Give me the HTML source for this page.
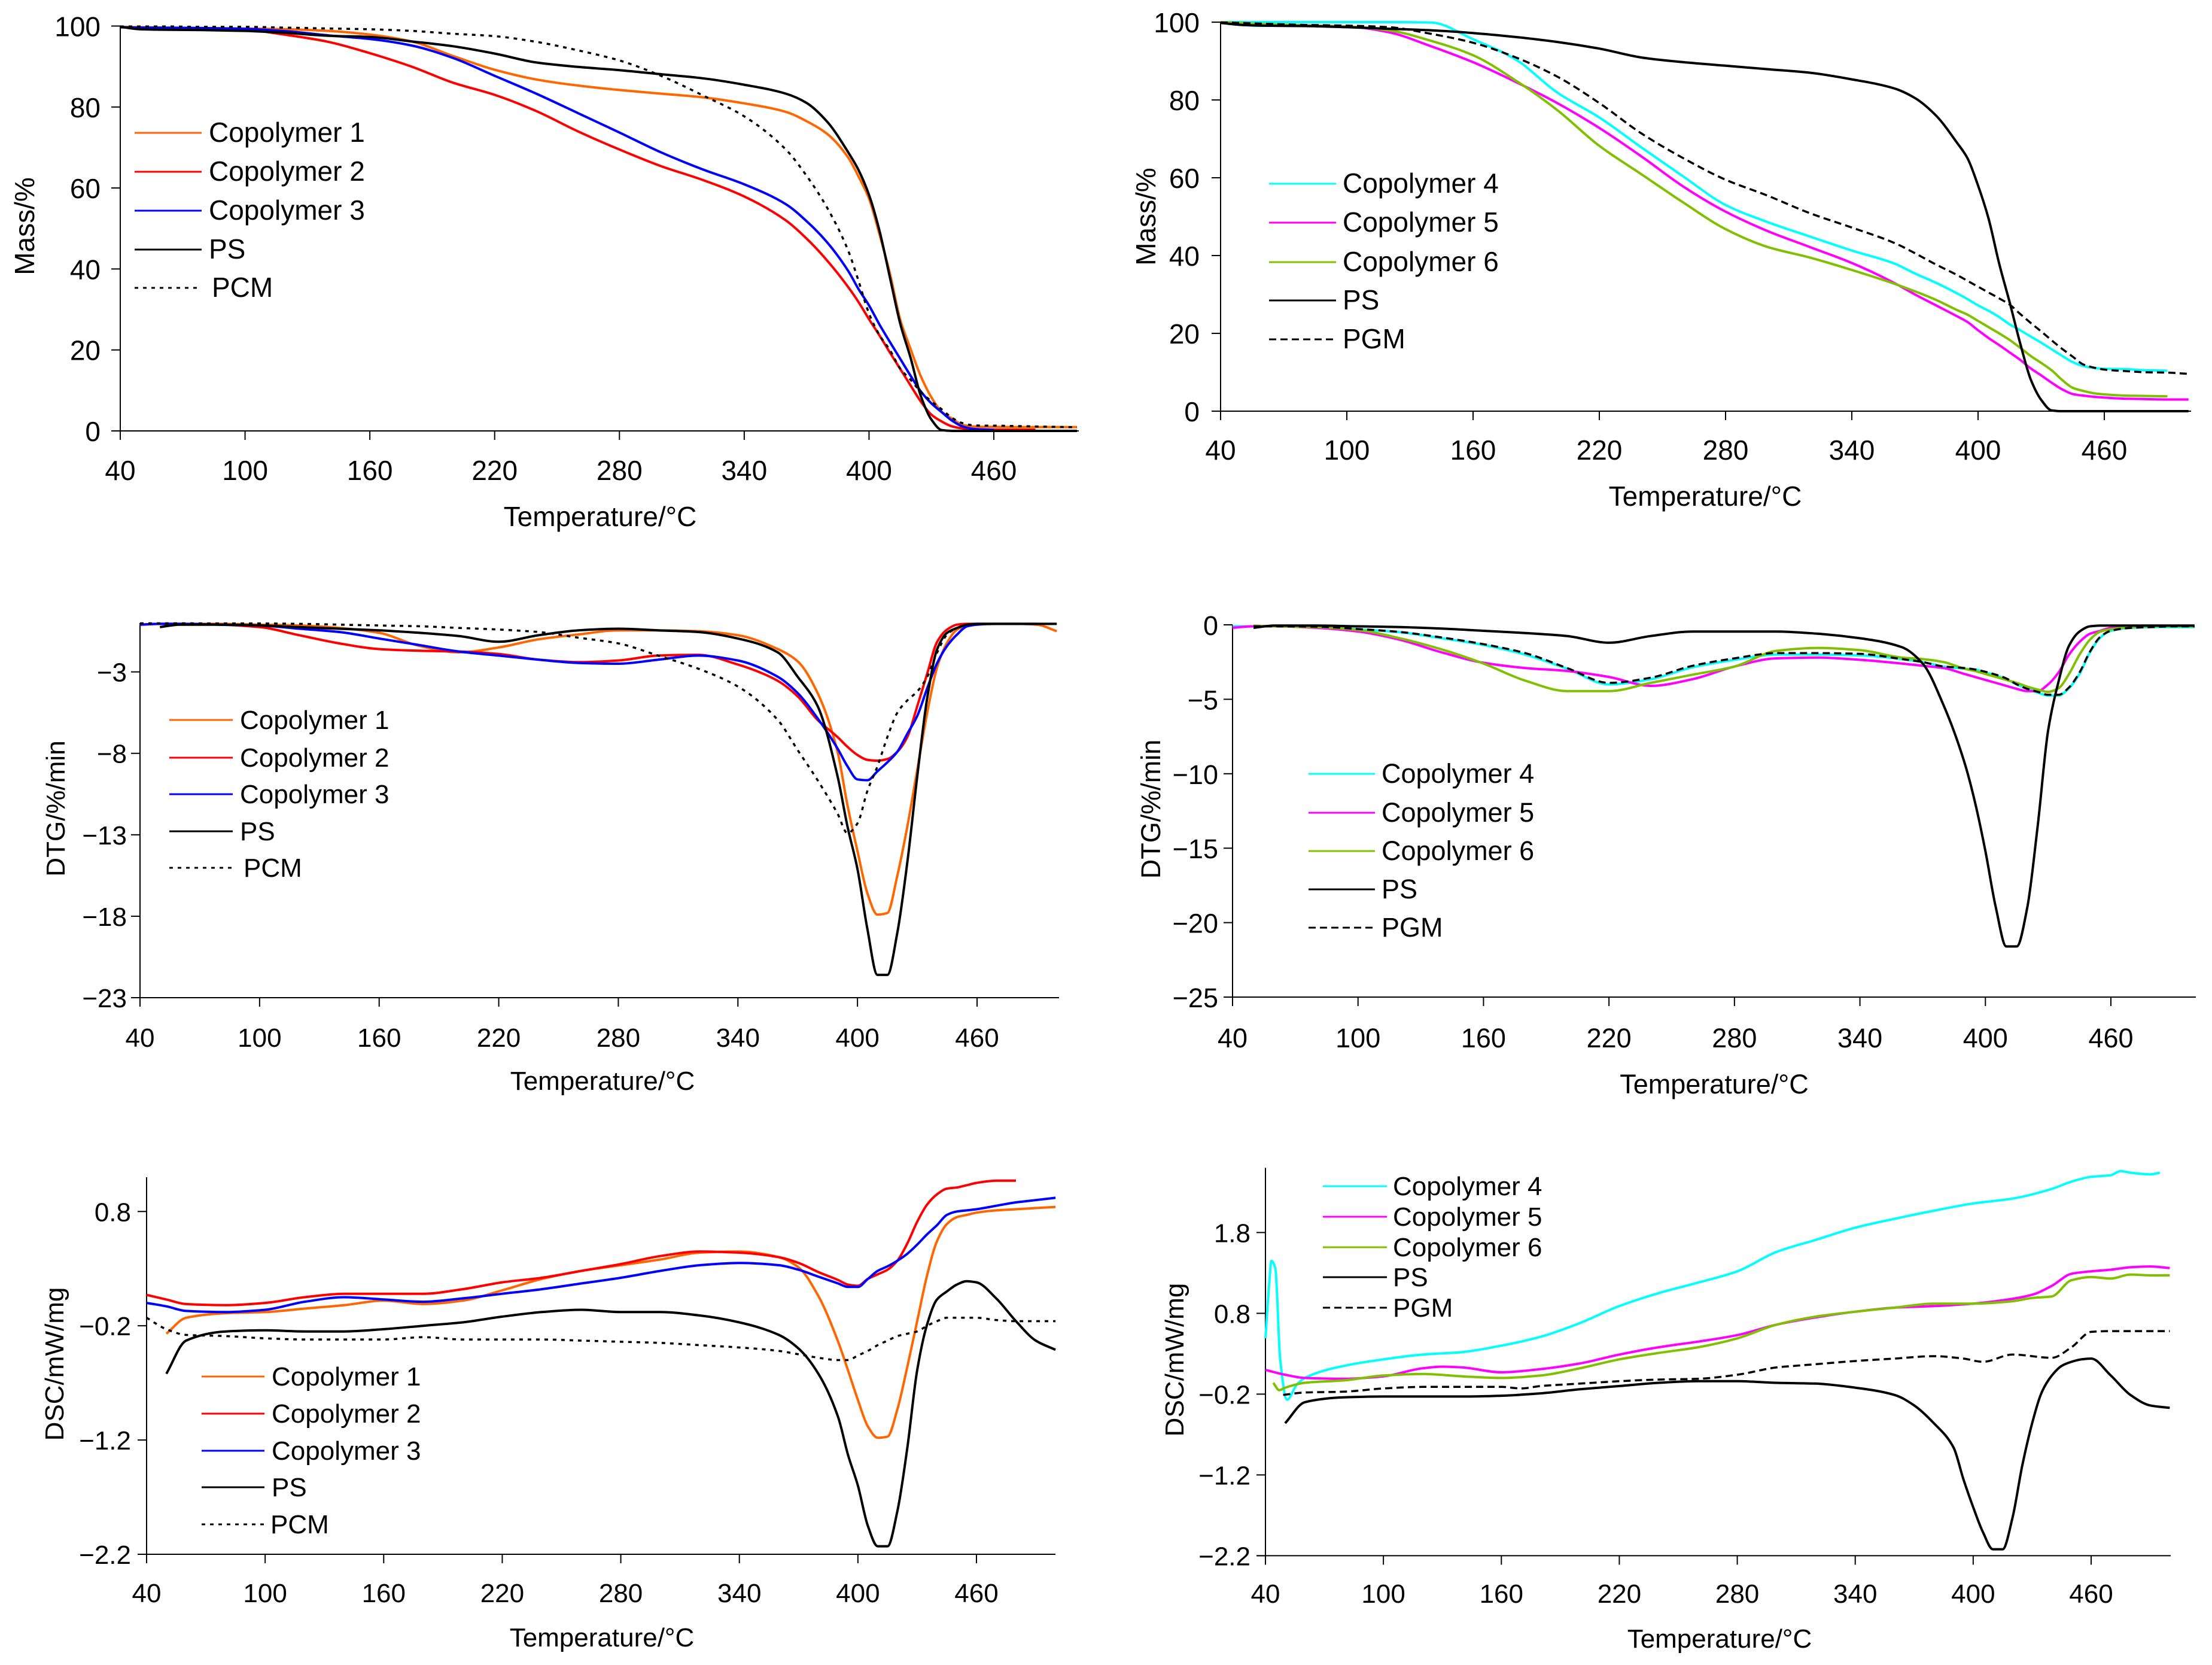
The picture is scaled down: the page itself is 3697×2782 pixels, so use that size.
<!DOCTYPE html>
<html><head><meta charset="utf-8"><title>Thermal analysis of copolymers</title>
<style>
html,body{margin:0;padding:0;background:#fff}
svg{display:block}
text{font-family:"Liberation Sans",Arial,sans-serif;fill:#000}
</style></head>
<body>
<svg id="figure" xmlns="http://www.w3.org/2000/svg" width="3697" height="2782" viewBox="0 0 3697 2782"></svg>
<script>
// Shared temperature grid (degC) for series
const tempGrid=[40,50,60,
80,100,120,140,160,180,200,220,240,260,280,300,320,340,
360,370,380,390,
395,400,405,410,415,420,425,430,435,440,445,450,455,460,
470,480,490,500];
const xTickValues=[40,100,160,220,280,340,400,460];
const massTicks=[0,20,40,60,80,100];
const dtgLeftTicks=[-23,-18,-13,-8,-3];
const dtgRightTicks=[-25,-20,-15,-10,-5,0];
const dscLeftTicks=[-2.2,-1.2,-0.2,0.8];
const dscRightTicks=[-2.2,-1.2,-0.2,0.8,1.8];

// Mass, left panel
const massLeftCopolymer1=[99.8,99.7,99.6,
99.5,99.4,99.2,98.8,97.9,96.2,92.6,89.2,86.8,85.3,84.2,83.3,82.4,80.9,
78.8,76.5,73.3,67.5,
62.8,57.4,48.6,39,27.5,20.2,13.4,8.3,4.7,3,1.5,1.1,1,1,
.95,.95,.95,.95];
const massLeftCopolymer2=[99.7,99.6,99.5,
99.4,99.1,97.8,96.1,93.3,90,86,83,79,74,69.5,65.4,62,57.9,
52,47.5,42,35.5,
31.8,27.6,23.6,19.4,15.3,11.2,7.2,4,2.3,1.1,.6,.4,.35,.3,
.3,.3,null,null];
const massLeftCopolymer3=[99.7,99.6,99.6,
99.5,99.3,98.7,97.7,96.8,95.2,92.1,87.7,83.3,78.5,73.7,68.8,64.6,60.9,
56,51.8,46.5,39.5,
35,31,26.3,22,17.8,13.6,9.7,6.8,4.6,2.5,1.1,.5,.35,.3,
null,null,null,null];
const massLeftPS=[99.8,99.2,99.1,
99,98.8,98.3,97.6,97.3,96.2,95,93.2,91,89.9,89.1,88.1,87.1,85.5,
83.3,81,76.3,68.8,
64.4,58.3,49.5,38,26.5,18,8.5,2.8,.2,0,0,0,0,0,
0,0,0,0];
const massLeftPCM=[99.9,99.9,99.9,
99.8,99.8,99.6,99.4,99.2,98.8,98.1,97.5,96.1,94,91.5,87.7,82.9,77.7,
69.5,63,55,44.5,
37,29,23.7,20,15.4,12.6,9.6,7.3,5.3,3.2,1.9,1.4,1.3,1.3,
1.2,1.1,1,.9];

// Mass, right panel
const massRightCopolymer4=[100,100,100,
100,100,100,99.9,95.6,90.5,81.9,75.5,67.8,60.3,53,48.6,44.9,41.3,
38,35.4,33,30.3,
28.8,27.2,25.8,24.2,22.3,20.8,19.2,17.6,15.9,14.2,12.6,11.6,11.1,10.9,
10.8,10.5,10.4,null];
const massRightCopolymer5=[100,99.3,99.2,
99.1,98.9,97.4,93.8,89.7,84.7,79.2,72.8,65.5,57.7,51.3,46.3,42.2,38.1,
33,30,27.2,24.4,
22.9,20.8,18.8,17,15.1,13.2,11,9.2,7.3,5.6,4.4,4,3.7,3.5,
3.2,3.1,3,3];
const massRightCopolymer6=[100,99.7,99.5,
99.2,98.9,97.9,95.2,91.5,85.1,77.4,68.2,60.9,53.6,46.8,42.2,39.5,36.3,
32.8,30.8,28.6,26,
24.8,23.2,21.6,20,18.3,16.3,14.2,12.4,10.5,8,6,5.2,4.6,4.3,
4,3.9,3.8,null];
const massRightPS=[99.8,99.3,99.1,
99,98.7,98.3,97.9,97.2,96.2,94.9,93.2,90.9,89.7,88.8,87.9,87,85.3,
83,80.5,76,69,
65,58,49.5,38,28,17.5,8.2,2.9,.2,0,0,0,0,0,
0,0,0,0];
const massRightPGM=[99.9,99.8,99.6,
99.3,99.1,98.7,97,94.7,91,86,79.2,71.4,65,59.5,55.4,50.9,47.2,
43.3,40.6,37.7,35,
33.5,32,30.5,29,27.4,25,22.7,20.5,18.2,16,14,12,11.2,10.7,
10.3,10,9.9,9.6];

// DTG, left panel
const dtgLeftCopolymer1=[-.1,-.05,-.05,
-.05,-.1,-.15,-.3,-.6,-1.4,-1.8,-1.5,-1,-.7,-.45,-.45,-.5,-.75,
-1.6,-2.35,-4.3,-7.9,
-11.2,-14,-16.6,-17.9,-17.8,-15.5,-12.5,-9,-5.5,-2.7,-1.2,-.4,-.15,-.05,
-.05,-.05,-.1,-.5];
const dtgLeftCopolymer2=[-.1,-.05,-.05,
-.1,-.25,-.75,-1.25,-1.6,-1.7,-1.75,-1.9,-2.25,-2.4,-2.3,-2,-1.95,-2.55,
-3.55,-4.5,-5.95,-7,
-7.6,-8.1,-8.4,-8.45,-8.35,-7.9,-7,-5.1,-3.1,-1.15,-.4,-.1,-.05,-.05,
-.05,null,null,null];
const dtgLeftCopolymer3=[-.1,-.05,-.05,
-.1,-.15,-.35,-.55,-.95,-1.35,-1.75,-2,-2.25,-2.45,-2.5,-2.25,-2,-2.3,
-3.3,-4.3,-5.85,-7.7,
-8.8,-9.6,-9.65,-9.1,-8.55,-7.9,-6.8,-5.7,-4,-2.45,-1.4,-.7,-.2,-.1,
-.05,-.05,-.05,null];
const dtgLeftPS=[null,-.25,-.1,
-.1,-.15,-.25,-.35,-.45,-.6,-.8,-1.15,-.75,-.45,-.35,-.45,-.55,-.95,
-1.8,-3.3,-5.1,-9.4,
-12.5,-15.1,-18.8,-21.6,-21.6,-19,-14.7,-9.4,-4.6,-1.6,-.6,-.3,-.1,-.05,
-.05,-.05,-.05,-.05];
const dtgLeftPCM=[-.02,-.02,-.02,
-.03,-.03,-.05,-.1,-.15,-.2,-.3,-.4,-.55,-.9,-1.25,-2,-2.8,-3.9,
-5.95,-7.8,-9.65,-11.7,
-12.9,-12.3,-10.3,-8.8,-7,-5.5,-4.75,-4.2,-3.3,-1.8,-.7,-.3,-.1,-.05,
-.05,-.05,-.05,-.05];

// DTG, right panel
const dtgRightCopolymer4=[-.1,-.1,-.1,
-.15,-.3,-.5,-.9,-1.35,-2,-2.95,-4,-3.65,-2.85,-2.35,-2,-2,-2.05,
-2.3,-2.5,-2.8,-2.95,
-3,-3.2,-3.4,-3.65,-4,-4.3,-4.55,-4.75,-4.75,-4.25,-3.3,-1.85,-.85,-.4,
-.2,-.15,-.15,-.15];
const dtgRightCopolymer5=[-.2,-.1,-.1,
-.2,-.45,-1,-1.85,-2.55,-2.9,-3.1,-3.5,-4.1,-3.65,-2.8,-2.25,-2.2,-2.35,
-2.6,-2.75,-2.9,-3.3,
-3.5,-3.7,-3.9,-4.1,-4.3,-4.45,-4.45,-4,-3.2,-2,-1.15,-.6,-.4,-.2,
-.1,-.1,-.1,-.1];
const dtgRightCopolymer6=[null,-.05,-.1,
-.15,-.35,-.9,-1.65,-2.6,-3.75,-4.45,-4.45,-3.9,-3.35,-2.8,-1.75,-1.55,-1.7,
-2.2,-2.3,-2.5,-2.95,
-3.1,-3.3,-3.5,-3.7,-3.9,-4.15,-4.35,-4.5,-4.25,-3.3,-2,-1,-.45,-.3,
-.15,-.1,-.1,-.1];
const dtgRightPS=[null,-.2,-.05,
-.05,-.1,-.15,-.25,-.4,-.55,-.75,-1.2,-.75,-.45,-.45,-.45,-.6,-.9,
-1.5,-2.6,-5.4,-9.25,
-11.9,-15.2,-19,-21.6,-21.6,-19,-13.5,-7.1,-3.8,-1.4,-.45,-.1,-.05,-.05,
-.05,-.05,-.05,-.05];
const dtgRightPGM=[null,-.1,-.1,
-.12,-.28,-.48,-.85,-1.3,-1.9,-2.9,-3.9,-3.55,-2.75,-2.25,-1.9,-1.9,-1.95,
-2.3,-2.5,-2.8,-2.9,
-3,-3.15,-3.35,-3.6,-4,-4.3,-4.5,-4.7,-4.7,-4.2,-3.2,-1.8,-.8,-.4,
-.2,-.15,-.1,-.1];

// DSC, left panel
const dscLeftCopolymer1=[null,-.27,-.13,
-.09,-.08,-.05,-.02,.02,-.01,.02,.11,.21,.28,.33,.38,.44,.45,
.4,.31,.06,-.34,
-.59,-.85,-1.08,-1.18,-1.17,-.93,-.56,-.16,.24,.54,.69,.75,.77,.79,
.81,.82,.83,.84];
const dscLeftCopolymer2=[.07,.03,-.01,
-.02,0,.05,.08,.08,.08,.12,.18,.22,.28,.34,.41,.45,.44,
.4,.35,.27,.2,
.16,.15,.21,.25,.29,.37,.52,.71,.86,.95,1,1.01,1.03,1.05,
1.07,1.07,null,null];
const dscLeftCopolymer3=[0,-.03,-.07,
-.08,-.06,.01,.05,.03,.01,.04,.08,.12,.17,.22,.28,.33,.35,
.33,.29,.23,.17,
.14,.14,.21,.28,.32,.37,.43,.51,.6,.68,.77,.8,.81,.82,
.85,.88,.9,.92];
const dscLeftPS=[null,-.62,-.33,
-.25,-.24,-.25,-.25,-.23,-.2,-.17,-.12,-.08,-.06,-.08,-.08,-.11,-.17,
-.28,-.4,-.62,-1,
-1.33,-1.6,-1.95,-2.13,-2.13,-1.82,-1.27,-.59,-.19,.03,.1,.16,.19,.18,
.04,-.16,-.33,-.41];
const dscLeftPCM=[-.13,-.23,-.28,
-.29,-.31,-.32,-.32,-.32,-.3,-.32,-.32,-.32,-.33,-.34,-.35,-.37,-.39,
-.42,-.45,-.48,-.5,
-.5,-.46,-.42,-.37,-.33,-.29,-.27,-.25,-.2,-.16,-.13,-.13,-.13,-.13,
-.15,-.16,-.16,-.16];

// DSC, right panel: each series has its own sampling
const dscRightCopolymer4Temps=[40,42,43,45,47.5,51,56,60,80,100,120,140,160,180,200,220,240,260,280,300,320,340,360,380,400,420,440,450,460,470,475,480,490,495];
const dscRightCopolymer4=[.49,1.2,1.45,1.36,.23,-.27,-.08,0,.15,.23,.29,.32,.4,.51,.68,.89,1.05,1.18,1.32,1.56,1.71,1.86,1.97,2.07,2.16,2.22,2.34,2.43,2.49,2.51,2.56,2.54,2.52,2.54];
const dscRightCopolymer5Temps=[40,50,60,80,100,120,130,140,160,180,200,220,240,260,280,300,320,340,360,380,400,420,430,440,450,460,470,480,490,500];
const dscRightCopolymer5=[.1,.04,0,-.01,.02,.12,.14,.13,.07,.11,.18,.29,.38,.45,.53,.66,.75,.82,.87,.89,.92,.98,1.03,1.14,1.29,1.32,1.34,1.37,1.38,1.36];
const dscRightCopolymer6Temps=[44,47,50,60,80,100,120,140,160,180,200,220,240,260,280,300,320,340,360,380,400,420,430,440,450,460,470,480,490,500];
const dscRightCopolymer6=[-.06,-.15,-.12,-.06,-.03,.03,.05,.02,0,.03,.12,.23,.31,.38,.49,.66,.76,.82,.87,.92,.92,.95,.99,1.01,1.21,1.25,1.23,1.28,1.27,1.27];
const dscRightPS=[null,-.56,-.3,
-.24,-.23,-.23,-.23,-.22,-.19,-.14,-.1,-.06,-.04,-.04,-.06,-.07,-.12,
-.21,-.34,-.56,-.86,
-1.25,-1.6,-1.91,-2.12,-2.12,-1.73,-1.08,-.56,-.17,.03,.15,.2,.23,.24,
.03,-.21,-.34,-.37];
const dscRightPGMTemps=[49,60,80,100,120,140,160,170,180,200,220,240,260,280,300,320,340,360,380,395,405,420,440,450,460,470,480,490,500];
const dscRightPGM=[-.21,-.18,-.17,-.13,-.11,-.11,-.11,-.13,-.1,-.07,-.04,-.02,-.01,.04,.13,.17,.21,.24,.27,.24,.2,.29,.25,.38,.57,.58,.58,.58,.58];

const SVGNS='http://www.w3.org/2000/svg';
const figure=document.getElementById('figure');
const COLORS={orange:'#ff6600',red:'#ff0000',blue:'#0000ff',black:'#000000',cyan:'#00ffff',magenta:'#ff00ff',green:'#80c000'};

function node(tag,attrs,parent){
  const el=document.createElementNS(SVGNS,tag);
  for(const k in attrs) el.setAttribute(k,attrs[k]);
  parent.appendChild(el);
  return el;
}
function slug(s){return s.toLowerCase().replace(/[^a-z0-9]+/g,'-').replace(/-$/,'');}
function fmt(v){return String(v).replace('-','\u2212');}

// Monotone cubic path through screen points
function smoothPath(pts){
  const n=pts.length;
  if(n<2) return '';
  const sec=[],m=[];
  for(let i=0;i<n-1;i++) sec.push((pts[i+1][1]-pts[i][1])/(pts[i+1][0]-pts[i][0]));
  m[0]=sec[0];m[n-1]=sec[n-2];
  for(let i=1;i<n-1;i++){
    if(sec[i-1]*sec[i]<=0){m[i]=0;}
    else{
      const h0=pts[i][0]-pts[i-1][0],h1=pts[i+1][0]-pts[i][0];
      const w1=2*h1+h0,w2=h1+2*h0;
      m[i]=(w1+w2)/(w1/sec[i-1]+w2/sec[i]);
    }
  }
  let d='M'+pts[0][0].toFixed(1)+' '+pts[0][1].toFixed(1);
  for(let i=0;i<n-1;i++){
    const h=(pts[i+1][0]-pts[i][0])/3;
    d+='C'+(pts[i][0]+h).toFixed(1)+' '+(pts[i][1]+m[i]*h).toFixed(1)+' '+(pts[i+1][0]-h).toFixed(1)+' '+(pts[i+1][1]-m[i+1]*h).toFixed(1)+' '+pts[i+1][0].toFixed(1)+' '+pts[i+1][1].toFixed(1);
  }
  return d;
}

function drawPanel(p){
  const g=node('g',{'font-size':p.fontSize},figure);
  
  
  const xOf=function(t){return p.x40+(t-40)*(p.x460-p.x40)/420;};
  const yOf=function(v){return p.yTop+(p.vTop-v)*(p.yBottom-p.yTop)/(p.vTop-p.vBottom);};

  const yAxis=node('line',{x1:p.x40,x2:p.x40,y1:p.yTop,y2:p.yBottom+15,stroke:'#000','stroke-width':2},g);
  
  
  const xAxis=node('line',{x1:p.x40-15,x2:p.xEnd,y1:p.yBottom,y2:p.yBottom,stroke:'#000','stroke-width':2},g);
  
  

  xTickValues.forEach(function(t){
    const tick=node('line',{x1:xOf(t),x2:xOf(t),y1:p.yBottom,y2:p.yBottom+15,stroke:'#000','stroke-width':2},g);
    
    
    const lab=node('text',{x:xOf(t),y:p.xLabelY,'text-anchor':'middle'},g);
    lab.textContent=t;
    
    
  });
  p.yTicks.forEach(function(v){
    const tick=node('line',{x1:p.x40-15,x2:p.x40,y1:yOf(v),y2:yOf(v),stroke:'#000','stroke-width':2},g);
    
    
    const lab=node('text',{x:p.yLabelX,y:yOf(v)+p.yLabelShift,'text-anchor':'end'},g);
    lab.textContent=fmt(v);
    
    
  });

  const xt=node('text',{x:p.xTitleX,y:p.xTitleY,'text-anchor':'middle'},g);
  xt.textContent='Temperature/\u00B0C';
  
  
  const yt=node('text',{transform:'translate('+p.yTitleX+','+p.yTitleY+') rotate(-90)','text-anchor':'middle'},g);
  yt.textContent=p.yTitle;
  
  

  p.series.forEach(function(s,i){
    const temps=s.temps||tempGrid;
    const pts=[];
    temps.forEach(function(t,k){
      const v=s.values[k];
      if(v===null||v===undefined) return;
      pts.push([xOf(t),yOf(v)]);
    });
    const line=node('path',{d:smoothPath(pts),fill:'none',stroke:COLORS[s.color],'stroke-width':s.dash?3.5:4,'stroke-linejoin':'round'},g);
    if(s.dash) line.setAttribute('stroke-dasharray',s.dash);
    
    

    const ly=p.legendY[i];
    const key=node('line',{x1:p.legendX1,x2:p.legendX2,y1:ly,y2:ly,stroke:COLORS[s.color],'stroke-width':3},g);
    if(s.dash) key.setAttribute('stroke-dasharray',s.dash);
    
    
    const tx=node('text',{x:p.legendTextX+(s.textShift||0),y:ly+15},g);
    tx.textContent=s.name;
    
    
  });
}

drawPanel({id:'mass-left',fontSize:46,yTitle:'Mass/%',x40:201,x460:1661,xEnd:1803,yTop:43.5,yBottom:720,vTop:100,vBottom:0,
  yTicks:massTicks,yLabelX:168,yLabelShift:17,xLabelY:802,xTitleX:1003,xTitleY:879,yTitleX:57,yTitleY:378,
  legendY:[222,287,352,417,481],legendX1:225,legendX2:337,legendTextX:349,
  series:[{name:'Copolymer 1',color:'orange',values:massLeftCopolymer1},
  {name:'Copolymer 2',color:'red',values:massLeftCopolymer2},
  {name:'Copolymer 3',color:'blue',values:massLeftCopolymer3},
  {name:'PS',color:'black',values:massLeftPS},
  {name:'PCM',color:'black',values:massLeftPCM,dash:'6 8',textShift:5}]});

drawPanel({id:'mass-right',fontSize:46,yTitle:'Mass/%',x40:2040,x460:3517,xEnd:3662,yTop:37,yBottom:687,vTop:100,vBottom:0,
  yTicks:massTicks,yLabelX:2005,yLabelShift:17,xLabelY:768,xTitleX:2850,xTitleY:845,yTitleX:1931,yTitleY:362,
  legendY:[307,372,438,502,567],legendX1:2121,legendX2:2233,legendTextX:2244,
  series:[{name:'Copolymer 4',color:'cyan',values:massRightCopolymer4},
  {name:'Copolymer 5',color:'magenta',values:massRightCopolymer5},
  {name:'Copolymer 6',color:'green',values:massRightCopolymer6},
  {name:'PS',color:'black',values:massRightPS},
  {name:'PGM',color:'black',values:massRightPGM,dash:'12 7'}]});

drawPanel({id:'dtg-left',fontSize:44,yTitle:'DTG/%/min',x40:234,x460:1633,xEnd:1770,yTop:1041,yBottom:1667,vTop:0,vBottom:-23,
  yTicks:dtgLeftTicks,yLabelX:212,yLabelShift:16,xLabelY:1749,xTitleX:1007,xTitleY:1821,yTitleX:108,yTitleY:1351,
  legendY:[1203,1266,1327,1389,1450],legendX1:283,legendX2:389,legendTextX:401,
  series:[{name:'Copolymer 1',color:'orange',values:dtgLeftCopolymer1},
  {name:'Copolymer 2',color:'red',values:dtgLeftCopolymer2},
  {name:'Copolymer 3',color:'blue',values:dtgLeftCopolymer3},
  {name:'PS',color:'black',values:dtgLeftPS},
  {name:'PCM',color:'black',values:dtgLeftPCM,dash:'6 8',textShift:6}]});

drawPanel({id:'dtg-right',fontSize:45,yTitle:'DTG/%/min',x40:2060,x460:3528,xEnd:3670,yTop:1044,yBottom:1666,vTop:0,vBottom:-25,
  yTicks:dtgRightTicks,yLabelX:2036,yLabelShift:17,xLabelY:1750,xTitleX:2865,xTitleY:1827,yTitleX:1939,yTitleY:1352,
  legendY:[1293,1358,1422,1486,1550],legendX1:2187,legendX2:2298,legendTextX:2309,
  series:[{name:'Copolymer 4',color:'cyan',values:dtgRightCopolymer4},
  {name:'Copolymer 5',color:'magenta',values:dtgRightCopolymer5},
  {name:'Copolymer 6',color:'green',values:dtgRightCopolymer6},
  {name:'PS',color:'black',values:dtgRightPS},
  {name:'PGM',color:'black',values:dtgRightPGM,dash:'12 7'}]});

drawPanel({id:'dsc-left',fontSize:44,yTitle:'DSC/mW/mg',x40:245,x460:1632,xEnd:1764,yTop:1967,yBottom:2597,vTop:1.1,vBottom:-2.2,
  yTicks:dscLeftTicks,yLabelX:219,yLabelShift:16,xLabelY:2677,xTitleX:1006,xTitleY:2751,yTitleX:106,yTitleY:2279,
  legendY:[2300,2362,2424,2485,2547],legendX1:337,legendX2:442,legendTextX:454,
  series:[{name:'Copolymer 1',color:'orange',values:dscLeftCopolymer1},
  {name:'Copolymer 2',color:'red',values:dscLeftCopolymer2},
  {name:'Copolymer 3',color:'blue',values:dscLeftCopolymer3},
  {name:'PS',color:'black',values:dscLeftPS},
  {name:'PCM',color:'black',values:dscLeftPCM,dash:'6 8',textShift:-2}]});

drawPanel({id:'dsc-right',fontSize:44,yTitle:'DSC/mW/mg',x40:2115,x460:3495,xEnd:3628,yTop:1951.4,yBottom:2599.4,vTop:2.6,vBottom:-2.2,
  yTicks:dscRightTicks,yLabelX:2090,yLabelShift:16,xLabelY:2678,xTitleX:2874,xTitleY:2753,yTitleX:1978,yTitleY:2272,
  legendY:[1982,2033,2084,2134,2185],legendX1:2211,legendX2:2318,legendTextX:2328,
  series:[{name:'Copolymer 4',color:'cyan',values:dscRightCopolymer4,temps:dscRightCopolymer4Temps},
  {name:'Copolymer 5',color:'magenta',values:dscRightCopolymer5,temps:dscRightCopolymer5Temps},
  {name:'Copolymer 6',color:'green',values:dscRightCopolymer6,temps:dscRightCopolymer6Temps},
  {name:'PS',color:'black',values:dscRightPS},
  {name:'PGM',color:'black',values:dscRightPGM,temps:dscRightPGMTemps,dash:'12 7'}]});
</script>
</body></html>
